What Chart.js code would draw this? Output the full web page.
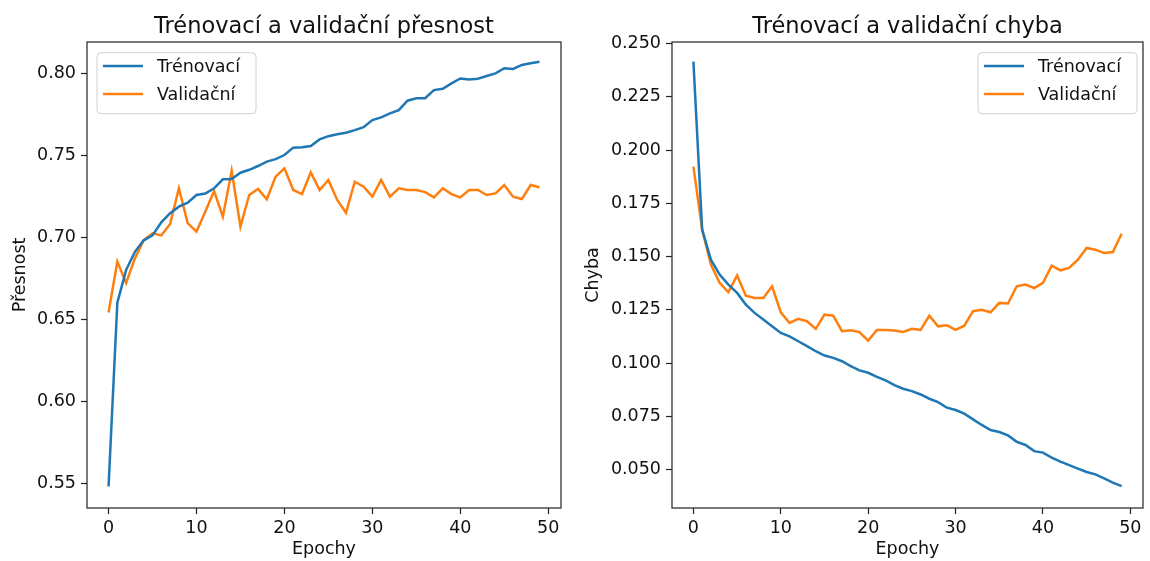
<!DOCTYPE html>
<html>
<head>
<meta charset="utf-8">
<script src="https://cdn.jsdelivr.net/npm/chart.js@4.4.1/dist/chart.umd.min.js"></script>
<style>
body { margin: 0; background: #fff; }
canvas { position: absolute; top: 0; }
</style>
</head>
<body>
<canvas id="presnostChart" width="575" height="561" style="left:0"></canvas>
<canvas id="chybaChart" width="575" height="561" style="left:575px"></canvas>
<script>
// Hodnoty (50 epoch)
const epochy = [0, 1, 2, 3, 4, 5, 6, 7, 8, 9, 10, 11, 12, 13, 14, 15, 16, 17, 18, 19,
    20, 21, 22, 23, 24, 25, 26, 27, 28, 29, 30, 31, 32, 33, 34, 35, 36, 37, 38, 39,
    40, 41, 42, 43, 44, 45, 46, 47, 48, 49];

const presnostTrenovaci = [0.548, 0.660, 0.680, 0.691, 0.698, 0.701, 0.709, 0.7145, 0.7185, 0.721,
    0.7256, 0.7265, 0.7297, 0.7352, 0.7354, 0.7392, 0.741, 0.7433, 0.746, 0.7475,
    0.750, 0.7545, 0.7547, 0.7555, 0.7595, 0.7615, 0.7626, 0.7636, 0.7652, 0.767,
    0.7713, 0.7729, 0.7754, 0.7774, 0.7831, 0.7846, 0.7846, 0.7896, 0.7904, 0.7937,
    0.7967, 0.7961, 0.7965, 0.7982, 0.7998, 0.8029, 0.8025, 0.8049, 0.8059, 0.8069];

const presnostValidacni = [0.654, 0.685, 0.672, 0.687, 0.698, 0.7023, 0.701, 0.708, 0.7297, 0.7085,
    0.7033, 0.7154, 0.728, 0.7124, 0.7404, 0.7063, 0.7256, 0.7293, 0.723, 0.7368,
    0.7419, 0.7287, 0.7262, 0.7394, 0.7287, 0.7348, 0.7226, 0.7148, 0.7337, 0.7307,
    0.7246, 0.7348, 0.7246, 0.7297, 0.7287, 0.7287, 0.7274, 0.7242, 0.7297, 0.7262,
    0.7242, 0.7287, 0.7287, 0.7256, 0.7266, 0.7317, 0.7246, 0.7232, 0.7317, 0.7303];

const chybaTrenovaci = [0.2416, 0.1627, 0.1486, 0.1416, 0.1369, 0.133, 0.1275, 0.1236, 0.1205, 0.1173,
    0.1142, 0.1126, 0.1103, 0.108, 0.1056, 0.1036, 0.1025, 0.1009, 0.0986, 0.0966,
    0.0955, 0.0936, 0.0919, 0.0897, 0.088, 0.0869, 0.0853, 0.0833, 0.0817, 0.0791,
    0.078, 0.0763, 0.0736, 0.071, 0.0686, 0.0677, 0.0661, 0.0631, 0.0616, 0.0587,
    0.058, 0.0557, 0.0538, 0.0521, 0.0505, 0.0489, 0.0478, 0.0459, 0.0439, 0.0423];

const chybaValidacni = [0.1923, 0.1627, 0.1463, 0.1377, 0.1334, 0.1412, 0.1317, 0.1306, 0.1306, 0.1361,
    0.1239, 0.1189, 0.1208, 0.1197, 0.1161, 0.1228, 0.1223, 0.115, 0.1155, 0.1146,
    0.1106, 0.1156, 0.1156, 0.1153, 0.1147, 0.1161, 0.1156, 0.1223, 0.1173, 0.1178,
    0.1156, 0.1176, 0.1244, 0.1251, 0.1239, 0.1283, 0.128, 0.1361, 0.1369, 0.1353,
    0.1377, 0.1458, 0.1436, 0.1447, 0.1486, 0.1541, 0.1533, 0.1517, 0.1522, 0.1608];

// Popisky os
const epochyTicks = [0, 10, 20, 30, 40, 50];
const presnostTicks = [0.55, 0.60, 0.65, 0.70, 0.75, 0.80];
const chybaTicks = [0.050, 0.075, 0.100, 0.125, 0.150, 0.175, 0.200, 0.225, 0.250];

const modra = '#1f77b4';
const oranzova = '#ff7f0e';

Chart.defaults.font.family = '"DejaVu Sans", sans-serif';
Chart.defaults.color = '#111';

// Rámeček kolem grafu a legenda ve stylu matplotlib
const ramecekALegenda = {
    id: 'ramecekALegenda',
    afterDraw(chart, args, opts) {
        const ctx = chart.ctx;
        const a = chart.chartArea;
        ctx.save();
        ctx.strokeStyle = '#222';
        ctx.lineWidth = 1.2;
        ctx.strokeRect(a.left, a.top, a.right - a.left, a.bottom - a.top);

        const w = 159, h = 61;
        const x = opts.vpravo ? a.right - 6 - w : a.left + 10;
        const y = a.top + 10.7;
        ctx.beginPath();
        ctx.roundRect(x, y, w, h, 4);
        ctx.fillStyle = 'rgba(255,255,255,0.8)';
        ctx.fill();
        ctx.strokeStyle = '#d0d0d0';
        ctx.lineWidth = 1;
        ctx.stroke();

        ctx.font = '17.5px "DejaVu Sans"';
        ctx.textBaseline = 'middle';
        chart.data.datasets.forEach((ds, i) => {
            const ry = y + 13.3 + i * 28;
            ctx.strokeStyle = ds.borderColor;
            ctx.lineWidth = 2.5;
            ctx.beginPath();
            ctx.moveTo(x + 6, ry);
            ctx.lineTo(x + 46, ry);
            ctx.stroke();
            ctx.fillStyle = '#111';
            ctx.fillText(ds.label, x + 60, ry + 1);
        });
        ctx.restore();
    }
};

function body(hodnoty) {
    return hodnoty.map((v, i) => ({ x: epochy[i], y: v }));
}

function vytvorGraf(id, nadpis, osaY, trenovaci, validacni, yTicks, yMin, yMax, desetiny, sirkaY, pravyOkraj, titlePad, legendaVpravo) {
    const ctx = document.getElementById(id).getContext('2d');
    return new Chart(ctx, {
        type: 'line',
        data: {
            datasets: [{
                label: 'Trénovací',
                data: body(trenovaci),
                borderColor: modra,
                borderWidth: 2.5,
                pointRadius: 0,
                tension: 0
            }, {
                label: 'Validační',
                data: body(validacni),
                borderColor: oranzova,
                borderWidth: 2.5,
                pointRadius: 0,
                tension: 0
            }]
        },
        options: {
            responsive: false,
            animation: false,
            devicePixelRatio: 1,
            layout: { padding: { left: 0, right: pravyOkraj, top: 0, bottom: 0 } },
            plugins: {
                legend: { display: false },
                tooltip: { enabled: false },
                title: {
                    display: true,
                    fullSize: false,
                    text: nadpis,
                    color: '#111',
                    font: { size: 22.5, weight: 'normal' },
                    padding: { top: 13.5, bottom: 1.5 }
                },
                ramecekALegenda: { vpravo: legendaVpravo }
            },
            scales: {
                x: {
                    type: 'linear',
                    min: -2.45,
                    max: 51.45,
                    afterBuildTicks: (s) => { s.ticks = epochyTicks.map(v => ({ value: v })); },
                    afterFit: (s) => { s.height = 53; },
                    grid: { drawOnChartArea: false, drawTicks: true, tickLength: 6, tickColor: '#222', tickWidth: 1.2 },
                    border: { display: false },
                    ticks: { font: { size: 17.5 }, padding: 4, maxRotation: 0, color: '#111' },
                    title: { display: true, text: 'Epochy', font: { size: 17.5 }, padding: { top: 0, bottom: 1.5 }, color: '#111' }
                },
                y: {
                    type: 'linear',
                    min: yMin,
                    max: yMax,
                    afterBuildTicks: (s) => { s.ticks = yTicks.map(v => ({ value: v })); },
                    afterFit: (s) => { s.width = sirkaY; },
                    grid: { drawOnChartArea: false, drawTicks: true, tickLength: 6, tickColor: '#222', tickWidth: 1.2 },
                    border: { display: false },
                    ticks: {
                        font: { size: 17.5 },
                        padding: 5,
                        color: '#111',
                        callback: (v) => Number(v).toFixed(desetiny)
                    },
                    title: { display: true, text: osaY, font: { size: 17.5 }, padding: { top: titlePad, bottom: 0 }, color: '#111' }
                }
            }
        },
        plugins: [ramecekALegenda]
    });
}

vytvorGraf('presnostChart', 'Trénovací a validační přesnost', 'Přesnost',
    presnostTrenovaci, presnostValidacni, presnostTicks, 0.5348, 0.8189, 2, 87, 14, 9.5, false);

vytvorGraf('chybaChart', 'Trénovací a validační chyba', 'Chyba',
    chybaTrenovaci, chybaValidacni, chybaTicks, 0.0320, 0.2508, 3, 97, 7, 7.5, true);
</script>
</body>
</html>
